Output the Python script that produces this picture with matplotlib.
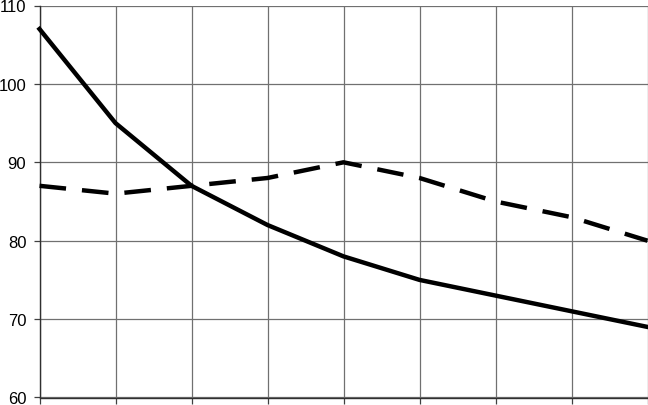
import numpy as np
import matplotlib.pyplot as plt

plt.rcParams['font.family'] = ['Liberation Sans', 'DejaVu Sans']

# values (9 evenly spaced points)
x_pos = np.arange(9)
solid_vals = [107, 95, 87, 82, 78, 75, 73, 71, 69]
dashed_vals = [87, 86, 87, 88, 90, 88, 85, 83, 80]
y_ticks = [60, 70, 80, 90, 100, 110]

fig = plt.figure(figsize=(6.48, 4.06), dpi=100)
ax = fig.add_axes([39.5 / 648, 1 - 398.5 / 406, 608 / 648, 392 / 406])

ax.plot(x_pos, solid_vals, color='black', lw=3.2, solid_joinstyle='round',
        clip_on=False, zorder=3)
ax.plot(x_pos, dashed_vals, color='black', lw=3.2, dashes=(6, 3.6),
        dash_capstyle='butt', clip_on=False, zorder=3)

ax.set_xlim(0, 8)
ax.set_ylim(60, 110)
ax.set_xticks(x_pos)
ax.set_xticklabels([])
ax.set_yticks(y_ticks)
ax.set_yticklabels([str(v) for v in y_ticks], fontsize=12)

ax.grid(True, color='#707070', lw=0.9)
ax.set_axisbelow(True)
ax.tick_params(axis='both', direction='out', length=4, width=0.9,
               color='#404040', pad=5.5)

for side in ('top', 'right'):
    ax.spines[side].set_visible(False)
for side in ('left', 'bottom'):
    ax.spines[side].set_color('#303030')
    ax.spines[side].set_linewidth(1.0)

fig.savefig('out.png', dpi=100)
